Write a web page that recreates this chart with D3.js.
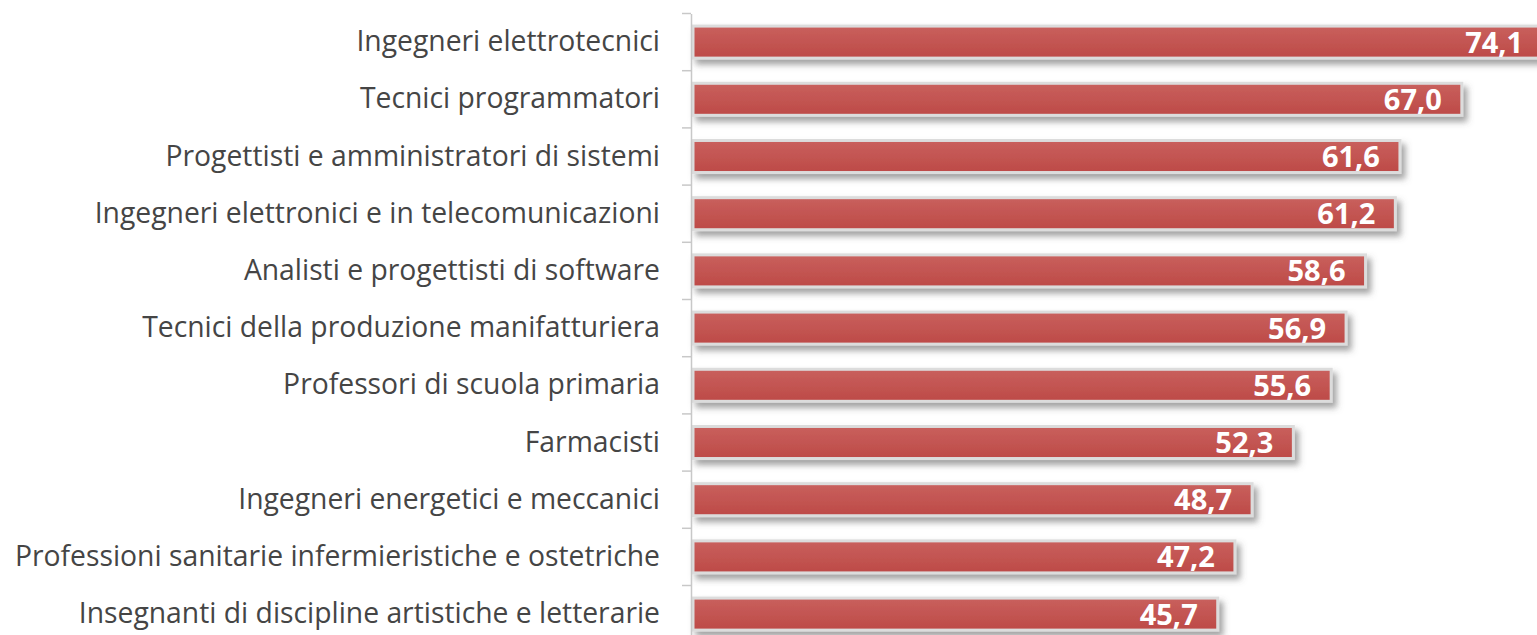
<!DOCTYPE html>
<html><head><meta charset="utf-8">
<script src="https://cdn.jsdelivr.net/npm/d3@7"></script>
<style>
html,body{margin:0;padding:0;background:#fff;overflow:hidden}
svg{display:block}
</style></head>
<body>
<svg id="chart" width="1537" height="635"></svg>
<script>
const categories = [
  "Ingegneri elettrotecnici",
  "Tecnici programmatori",
  "Progettisti e amministratori di sistemi",
  "Ingegneri elettronici e in telecomunicazioni",
  "Analisti e progettisti di software",
  "Tecnici della produzione manifatturiera",
  "Professori di scuola primaria",
  "Farmacisti",
  "Ingegneri energetici e meccanici",
  "Professioni sanitarie infermieristiche e ostetriche",
  "Insegnanti di discipline artistiche e letterarie"
];
const values = [74.1, 67.0, 61.6, 61.2, 58.6, 56.9, 55.6, 52.3, 48.7, 47.2, 45.7];
const valueLabels = ["74,1","67,0","61,6","61,2","58,6","56,9","55,6","52,3","48,7","47,2","45,7"];

const svg = d3.select("#chart");
const x0 = 691;
const x = d3.scaleLinear().domain([0, 10]).range([x0 + 5, x0 + 5 + 114.6]);
const step = 57.2;
const y = d3.scaleBand().domain(categories)
  .range([13.5, 13.5 + step * categories.length]).paddingInner(0.44).paddingOuter(0.22);

const defs = svg.append("defs");
const grad = defs.append("linearGradient").attr("id","barGrad").attr("x1",0).attr("y1",0).attr("x2",0).attr("y2",1);
grad.append("stop").attr("offset","0%").attr("stop-color","#c9605d");
grad.append("stop").attr("offset","100%").attr("stop-color","#bd4a47");
const f = defs.append("filter").attr("id","shadow").attr("x","-5%").attr("y","-30%").attr("width","115%").attr("height","190%");
f.append("feDropShadow").attr("dx",4).attr("dy",5).attr("stdDeviation",3)
  .attr("flood-color","#555").attr("flood-opacity",0.55);

// bars
const g = svg.append("g");
g.selectAll("rect.bar").data(values).enter().append("rect")
  .attr("class","bar")
  .attr("x", x(0) - 3)
  .attr("y", (d,i) => y(categories[i]))
  .attr("width", d => x(d) - x(0) + 1)
  .attr("height", y.bandwidth())
  .attr("fill", "url(#barGrad)")
  .attr("stroke", "#dcdcdc")
  .attr("stroke-width", 3)
  .attr("filter", "url(#shadow)");

// value labels
g.selectAll("text.val").data(values).enter().append("text")
  .attr("class","val")
  .attr("x", d => x(d) - 22)
  .attr("y", (d,i) => y(categories[i]) + y.bandwidth()/2)
  .attr("dy","0.36em")
  .attr("text-anchor","end")
  .attr("fill","#fff")
  .attr("font-family","'Open Sans', sans-serif")
  .attr("font-weight","bold")
  .attr("font-size","29px")
  .text((d,i) => valueLabels[i]);

// axis with labels
const axis = svg.append("g").attr("transform", `translate(${x0},0)`)
  .call(d3.axisLeft(y).tickSize(0).tickPadding(31).tickSizeOuter(0));
axis.select(".domain").attr("stroke","#c8c8c8").attr("stroke-width",1.5);
axis.selectAll("text").attr("fill","#454545")
  .attr("font-family","'Open Sans', sans-serif").attr("font-size","28.3px");

// boundary ticks
const bounds = d3.range(categories.length + 1).map(i => y.range()[0] + i * y.step());
svg.append("g").selectAll("line").data(bounds).enter().append("line")
  .attr("x1", x0 - 9).attr("x2", x0)
  .attr("y1", d => d).attr("y2", d => d)
  .attr("stroke","#c8c8c8").attr("stroke-width",1.5);
</script>
</body></html>
